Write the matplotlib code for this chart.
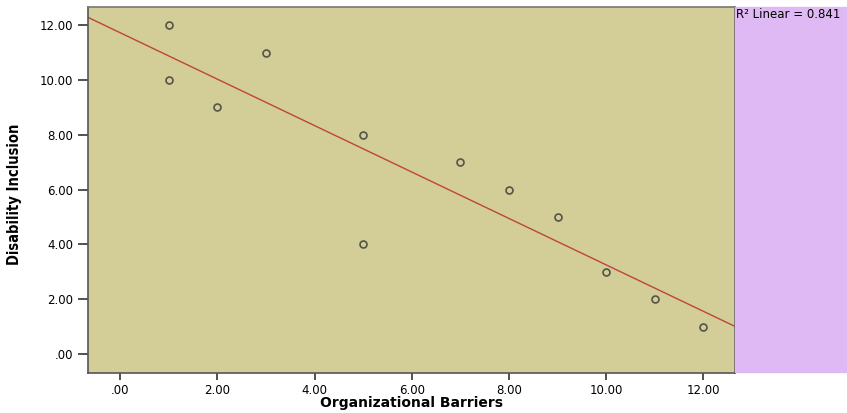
import os
import matplotlib
matplotlib.use("Agg")
import matplotlib.pyplot as plt
from matplotlib.patches import Rectangle
from matplotlib import font_manager
import numpy as np

# data
barriers = np.array([1, 1, 2, 3, 5, 5, 7, 8, 9, 10, 11, 12], dtype=float)
inclusion = np.array([12, 10, 9, 11, 8, 4, 7, 6, 5, 3, 2, 1], dtype=float)
ticks = [0, 2, 4, 6, 8, 10, 12]
tick_labels = [".00", "2.00", "4.00", "6.00", "8.00", "10.00", "12.00"]

# linear fit
slope, icpt = np.polyfit(barriers, inclusion, 1)
pred = slope * barriers + icpt
r2 = 1 - np.sum((inclusion - pred)**2) / np.sum((inclusion - inclusion.mean())**2)

plt.rcParams['font.family'] = ['DejaVu Sans']

# wide bold face shipped with matplotlib, condensed bold from the system
bold_path = os.path.join(matplotlib.get_data_path(), 'fonts', 'ttf', 'DejaVuSans-Bold.ttf')
cond_path = font_manager.findfont(font_manager.FontProperties(family='DejaVu Sans', weight='bold',
                                                              stretch='condensed'))

fig = plt.figure(figsize=(8.47, 4.13), dpi=100)
ax = fig.add_axes([88/847, 40/413, (735-88)/847, 366/413])
ax.set_facecolor('#D3CD98')

# purple side panel
fig.patches.append(Rectangle((735/847, 41/413), 1 - 735/847, 365/413,
                             transform=fig.transFigure, color='#DFB9F3', zorder=0))
fig.text(736/847, 399/413, "R\u00b2 Linear = %.3f" % r2, fontsize=8.5, va='center', ha='left')

xmin, xmax = -0.66, 12.65
ax.set_xlim(xmin, xmax)
ax.set_ylim(-0.69, 12.66)

xs = np.array([xmin, xmax])
ax.plot(xs, slope * xs + icpt, color='#C0443A', lw=1, zorder=2)
ax.plot(barriers, inclusion, 'o', mfc='none', mec='#555545', mew=1.2, ms=5, zorder=3)

ax.set_xticks(ticks)
ax.set_xticklabels(tick_labels)
ax.set_yticks(ticks)
ax.set_yticklabels(tick_labels)
ax.tick_params(axis='both', direction='out', length=7, width=1.2, labelsize=8.5, color='#333333')
ax.tick_params(axis='x', length=5, pad=3)

for s in ax.spines.values():
    s.set_color('#555555')
    s.set_linewidth(1.2)
ax.spines['top'].set_color('#777777')

ax.set_xlabel('Organizational Barriers',
              fontproperties=font_manager.FontProperties(fname=bold_path, size=10))
ax.xaxis.set_label_coords(0.5, -0.062)
ax.set_ylabel('Disability Inclusion',
              fontproperties=font_manager.FontProperties(fname=cond_path, size=10.5))
ax.yaxis.set_label_coords(-0.102, 0.489)

fig.savefig('out.png', dpi=100)
